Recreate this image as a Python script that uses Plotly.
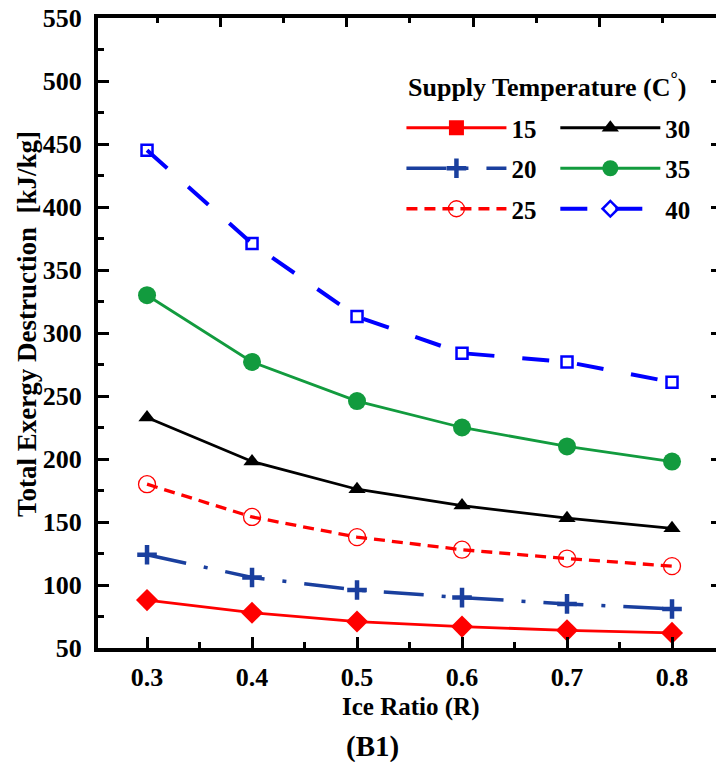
import plotly.graph_objects as go

ice_ratio = [0.3, 0.4, 0.5, 0.6, 0.7, 0.8]
t15 = [88, 78, 71, 67, 64, 62]
t20 = [124, 106, 96, 90, 85, 81]
t25 = [180, 154, 138, 128, 121, 115]
t30 = [233, 198, 176, 163, 153, 145]
t35 = [330, 277, 246, 225, 210, 198]
t40 = [445, 371, 313, 284, 277, 261]

x_ticks = [0.3, 0.4, 0.5, 0.6, 0.7, 0.8]
y_ticks = [50, 100, 150, 200, 250, 300, 350, 400, 450, 500, 550]

FONT = "Liberation Serif, Times New Roman, serif"
RED = "#ff0000"
NAVY = "#1a3f9e"
GREEN = "#129b3e"
BLUE = "#0000ff"

series = {
    "15": dict(y=t15, line=dict(color=RED, width=2.8),
               marker=dict(symbol="diamond", size=17, color=RED),
               leg_marker=dict(symbol="square", size=15, color=RED)),
    "20": dict(y=t20, line=dict(color=NAVY, width=3.5, dash="40px,18px,4px,18px"),
               marker=dict(symbol="cross-thin", size=14, color=NAVY, line=dict(color=NAVY, width=4.5)),
               leg_marker=dict(symbol="cross-thin", size=14, color=NAVY, line=dict(color=NAVY, width=4.5))),
    "25": dict(y=t25, line=dict(color=RED, width=3.3, dash="11px,7px"),
               marker=dict(symbol="circle-open", size=17, color=RED, line=dict(color=RED, width=1.3)),
               leg_marker=dict(symbol="circle-open", size=17, color=RED, line=dict(color=RED, width=1.3))),
    "30": dict(y=t30, line=dict(color="black", width=2.8),
               marker=dict(symbol="triangle-up", size=15, color="black"),
               leg_marker=dict(symbol="triangle-up", size=15, color="black")),
    "35": dict(y=t35, line=dict(color=GREEN, width=2.8),
               marker=dict(symbol="circle", size=18, color=GREEN),
               leg_marker=dict(symbol="circle", size=18, color=GREEN)),
    "40": dict(y=t40, line=dict(color=BLUE, width=4, dash="27px,28px"),
               marker=dict(symbol="square-open", size=11, color=BLUE, line=dict(color=BLUE, width=2.5)),
               leg_marker=dict(symbol="diamond-open", size=12, color=BLUE, line=dict(color=BLUE, width=2.5))),
}

fig = go.Figure()
for name in ["15", "20", "25", "30", "35", "40"]:
    s = series[name]
    fig.add_trace(go.Scatter(x=ice_ratio, y=s["y"], mode="lines+markers", name=name,
                             line=s["line"], marker=s["marker"], showlegend=False,
                             cliponaxis=False))

# legend entries: column 1 (15, 20, 25) and column 2 (30, 35, 40)
for name, leg in [("15", "legend"), ("20", "legend"), ("25", "legend"),
                  ("30", "legend2"), ("35", "legend2"), ("40", "legend2")]:
    s = series[name]
    fig.add_trace(go.Scatter(x=[None], y=[None], mode="lines+markers", name=name,
                             line=s["line"], marker=s["leg_marker"], showlegend=True,
                             legend=leg, legendgroup=name,
                             xaxis="x2", yaxis="y2"))

axis_font = dict(family=FONT, size=26, color="black", weight="bold")
leg_font = dict(family=FONT, size=25, color="black", weight="bold")
leg_common = dict(xanchor="left", yanchor="top", orientation="v",
                  itemwidth=100, tracegroupgap=5, traceorder="grouped",
                  bgcolor="rgba(0,0,0,0)", borderwidth=0, font=leg_font)

fig.update_layout(
    width=716, height=762,
    margin=dict(l=98, r=0, t=18, b=114),
    paper_bgcolor="white", plot_bgcolor="white",
    showlegend=True,
    xaxis=dict(range=[0.2533, 0.8419], tickvals=x_ticks, ticktext=[f"{v:.1f}" for v in x_ticks],
               showgrid=False, zeroline=False, showline=True, linewidth=4, linecolor="black",
               ticks="inside", ticklen=11, tickwidth=3, tickcolor="black",
               minor=dict(dtick=0.05, tick0=0.25, ticks="inside", ticklen=6, tickwidth=3, tickcolor="black"),
               tickfont=axis_font, ticklabelstandoff=3, automargin=False),
    yaxis=dict(range=[50, 550], tickvals=y_ticks,
               showgrid=False, zeroline=False, showline=True, linewidth=4, linecolor="black",
               ticks="inside", ticklen=11, tickwidth=3, tickcolor="black",
               minor=dict(dtick=25, tick0=50, ticks="inside", ticklen=6, tickwidth=3, tickcolor="black"),
               tickfont=axis_font, ticklabelstandoff=7, automargin=False),
    xaxis2=dict(overlaying="x", side="top", anchor="y", range=[0.066, 9.845],
                showgrid=False, zeroline=False, showline=True, linewidth=4, linecolor="black",
                ticks="inside", tick0=0, dtick=2, ticklen=9, tickwidth=3, tickcolor="black",
                minor=dict(tick0=1, dtick=2, ticks="inside", ticklen=5, tickwidth=3, tickcolor="black"),
                showticklabels=False, automargin=False),
    yaxis2=dict(overlaying="y", side="right", anchor="x", range=[50, 550],
                showgrid=False, zeroline=False, showline=False,
                ticks="inside", tick0=50, dtick=50, ticklen=5, tickwidth=3, tickcolor="black",
                showticklabels=False, automargin=False),
    legend=dict(x=0.491, y=(648 - 105) / 630, **leg_common),
    legend2=dict(x=0.740, y=(648 - 105) / 630, **leg_common),
    annotations=[
        dict(text="Supply Temperature (C<sup>°</sup>)", xref="paper", yref="paper",
             x=(406 - 98) / 618, y=(648 - 86) / 630, xanchor="left", yanchor="middle",
             showarrow=False, font=dict(family=FONT, size=26, color="black", weight="bold")),
        dict(text="Total Exergy Destruction  [kJ/kg]", textangle=-90, xref="paper", yref="paper",
             x=(27 - 98) / 618, y=(648 - 324) / 630, xanchor="center", yanchor="middle", showarrow=False,
             font=dict(family=FONT, size=27, color="black", weight="bold")),
        dict(text="Ice Ratio (R)", xref="paper", yref="paper", x=(410 - 98) / 618, y=(648 - 707) / 630,
             xanchor="center", yanchor="middle", showarrow=False,
             font=dict(family=FONT, size=25, color="black", weight="bold")),
        dict(text="(B1)", xref="paper", yref="paper", x=(372 - 98) / 618, y=(648 - 747) / 630,
             xanchor="center", yanchor="middle", showarrow=False,
             font=dict(family=FONT, size=29, color="black", weight="bold")),
    ],
)

fig.write_html("out.html", config={"displayModeBar": False},
               post_script="document.body.style.margin='0px';")
